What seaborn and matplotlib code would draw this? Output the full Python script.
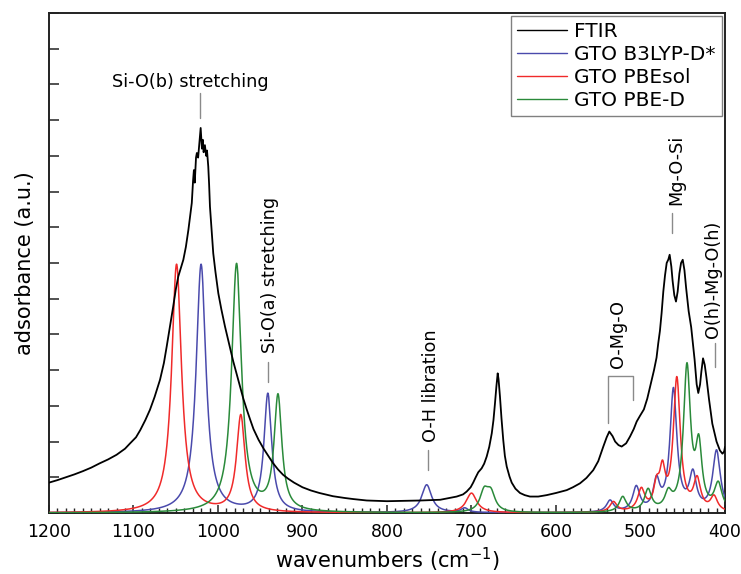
import numpy as np
import pandas as pd
import matplotlib
matplotlib.use("Agg")
import matplotlib.pyplot as plt
from matplotlib.ticker import MultipleLocator
import seaborn as sns

# ---------------------------------------------------------------------------
# Data (wavenumber in cm-1, absorbance in a.u.)
# ---------------------------------------------------------------------------
ftir_wn = [1200, 1190, 1180, 1170, 1160, 1150, 1140, 1130, 1120, 1110, 1104, 1097,
           1092, 1086, 1080.5, 1075, 1068.6, 1064, 1060.7, 1057, 1053, 1050, 1047,
           1044, 1041, 1038, 1035, 1033, 1031, 1029.5, 1028.5, 1027.5, 1026, 1025,
           1023.5, 1022, 1020.5, 1019, 1018, 1017, 1015.5, 1014, 1013, 1011.5,
           1010.5, 1009.5, 1007.5, 1005.6, 1003, 999.6, 996, 991.7, 987, 982, 978,
           974, 970, 966, 962, 958, 952, 946, 940, 935, 929, 923, 917, 910, 900,
           890, 880, 864, 850, 840, 824, 800, 780, 760, 737, 717.5, 710, 705.7, 701,
           698, 695, 692, 688, 685, 682, 679, 676, 674, 672.2, 670.5, 669, 668,
           666.3, 664.5, 662.4, 660.5, 658.3, 655, 652.4, 648, 642.6, 637, 630.8,
           621, 611, 600, 587.3, 580, 571.6, 564, 555.9, 550, 544, 540, 536.9, 533,
           530, 526, 522.3, 517, 512.4, 508, 504.5, 500.6, 496, 492, 488, 484, 481,
           479, 477, 475, 473, 471, 469, 467, 465.5, 463.5, 462, 460, 458, 456, 454,
           452, 450, 448, 446, 443, 440, 436, 433.5, 431.6, 429.5, 428, 426, 424,
           422, 419, 415, 410, 406, 403, 401, 400]
ftir_abs = [0.85, 0.92, 1.0, 1.08, 1.17, 1.27, 1.39, 1.5, 1.63, 1.8, 1.95, 2.12,
            2.32, 2.6, 2.89, 3.25, 3.73, 4.2, 4.66, 5.2, 5.78, 6.25, 6.62,
            6.85, 7.09, 7.45, 7.93, 8.3, 8.68, 9.3, 9.6, 9.25, 9.95, 10.08,
            9.95, 10.35, 10.78, 10.2, 10.45, 10.1, 10.3, 10.0, 10.15, 9.7,
            9.2, 8.58, 7.9, 7.27, 6.75, 6.15, 5.7, 5.22, 4.75, 4.25, 3.9,
            3.55, 3.2, 2.9, 2.62, 2.35, 2.05, 1.8, 1.58, 1.4, 1.22, 1.07, 0.96, 0.85, 0.72,
            0.63, 0.56, 0.47, 0.42, 0.39, 0.35, 0.33, 0.34, 0.35, 0.37, 0.46, 0.52, 0.6, 0.72,
            0.85, 1.0, 1.14, 1.25, 1.38, 1.58, 1.85, 2.23, 2.6, 3.07, 3.55, 3.91, 3.75,
            3.26, 2.65, 2.04, 1.6, 1.3, 1.02, 0.85, 0.68, 0.56, 0.5, 0.46,
            0.46, 0.5, 0.56, 0.64, 0.72, 0.83, 0.98, 1.2, 1.45, 1.86, 2.12, 2.28, 2.15,
            2.0, 1.9, 1.86, 1.95, 2.14, 2.35, 2.56, 2.72, 2.9, 3.2, 3.6, 4.0, 4.35,
            4.75, 5.1, 5.6, 6.2, 6.65, 7.0, 7.1, 7.23, 6.9, 6.5, 6.1, 5.92, 6.2, 6.7,
            7.0, 7.09, 6.8, 6.3, 5.65, 5.2, 4.3, 3.6, 3.36, 3.6, 3.95, 4.33, 4.15,
            3.8, 3.2, 2.5, 2.0, 1.75, 1.66, 1.72, 1.85]

# computed GTO spectra: band position, intensity, half width
b3lyp_pos = [1020, 941, 753, 708, 536, 505, 481, 461, 438, 410]
b3lyp_int = [6.95, 3.3, 0.78, 0.12, 0.32, 0.68, 0.8, 3.4, 1.0, 1.7]
b3lyp_hw = [7, 5.5, 7, 5, 5, 5, 4.5, 5, 5, 5.5]

pbesol_pos = [1049, 973, 700, 532, 499, 481, 474, 457, 433, 413]
pbesol_int = [6.95, 2.7, 0.55, 0.28, 0.6, 0.6, 1.0, 3.7, 0.85, 0.4]
pbesol_hw = [7, 6, 7.5, 5, 5, 4, 4, 5, 5, 5]

pbed_pos = [978, 929, 685, 677, 521, 491, 467, 445, 431, 408]
pbed_int = [6.95, 3.2, 0.55, 0.5, 0.42, 0.6, 0.45, 4.0, 1.7, 0.75]
pbed_hw = [7, 5.5, 6, 6, 5, 5, 5, 5, 4.5, 5.5]

labels = ["FTIR", "GTO B3LYP-D*", "GTO PBEsol", "GTO PBE-D"]
colors = ["black", "#4a4aac", "#f02a2a", "#2a8a3a"]


def lorentz_sum(grid, pos, inten, hw):
    out = np.zeros_like(grid)
    for p, h, w in zip(pos, inten, hw):
        out += h / (1.0 + ((grid - p) / w) ** 2)
    return out


grid = np.linspace(400, 1200, 3201)
df = pd.DataFrame({"wn": ftir_wn, "abs": ftir_abs})

sns.set_theme(style="ticks")
plt.rcParams["font.family"] = ["DejaVu Sans"]
plt.rcParams.update({"text.color": "black", "axes.labelcolor": "black",
                     "xtick.color": "black", "ytick.color": "black"})

fig = plt.figure(figsize=(7.41, 5.74), dpi=100)
ax = fig.add_axes([0.0661, 0.1063, 0.9123, 0.8711])

sns.lineplot(data=df, x="wn", y="abs", color=colors[0], lw=1.3,
             estimator=None, sort=False, label=labels[0], ax=ax, zorder=4)
for (pos, inten, hw), lab, col in zip(
        [(b3lyp_pos, b3lyp_int, b3lyp_hw),
         (pbesol_pos, pbesol_int, pbesol_hw),
         (pbed_pos, pbed_int, pbed_hw)],
        labels[1:], colors[1:]):
    sns.lineplot(x=grid, y=lorentz_sum(grid, pos, inten, hw), color=col,
                 lw=1.1, estimator=None, label=lab, ax=ax, zorder=3)

ax.set_xlim(1200, 400)
ax.set_ylim(0, 14)
ax.xaxis.set_major_locator(MultipleLocator(100))
ax.xaxis.set_minor_locator(MultipleLocator(10))
ax.yaxis.set_major_locator(MultipleLocator(1))
ax.tick_params(axis="x", which="major", direction="in", length=6, width=1.1,
               labelsize=12.5, pad=7, top=False, color="#222222", labelcolor="black")
ax.tick_params(axis="x", which="minor", direction="in", length=3.5, width=1.0,
               top=False, color="#222222")
ax.tick_params(axis="y", which="major", direction="in", length=7, width=1.1,
               labelleft=False, right=False, color="#222222")
for sp in ax.spines.values():
    sp.set_linewidth(1.4)
    sp.set_color("#222222")

ax.set_xlabel(r"wavenumbers (cm$^{\mathregular{-1}}$)", fontsize=15, labelpad=4,
              color="black")
ax.set_ylabel("adsorbance (a.u.)", fontsize=15, labelpad=10, color="black")

# band assignments
grey = "#8a8a8a"
tfs = 12.7
ax.text(1033, 12.07, "Si-O(b) stretching", ha="center", va="center", fontsize=tfs)
ax.plot([1021, 1021], [11.05, 11.76], color=grey, lw=1)
ax.text(939, 6.67, "Si-O(a) stretching", rotation=90, ha="center", va="center", fontsize=tfs)
ax.plot([941, 941], [3.67, 4.23], color=grey, lw=1)
ax.text(748, 3.56, "O-H libration", rotation=90, ha="center", va="center", fontsize=tfs)
ax.plot([752, 752], [1.2, 1.76], color=grey, lw=1)
ax.text(526.5, 5.0, "O-Mg-O", rotation=90, ha="center", va="center", fontsize=tfs)
ax.plot([538.5, 538.5, 509, 509], [2.52, 3.84, 3.84, 3.17], color=grey, lw=1)
ax.text(458, 9.6, "Mg-O-Si", rotation=90, ha="center", va="center", fontsize=tfs)
ax.plot([463, 463], [7.84, 8.4], color=grey, lw=1)
ax.text(414, 6.53, "O(h)-Mg-O(h)", rotation=90, ha="center", va="center", fontsize=tfs)
ax.plot([412, 412], [4.09, 4.76], color=grey, lw=1)

leg = ax.legend(loc="upper right", fontsize=14.5, frameon=True, fancybox=False,
                edgecolor="#808080", framealpha=1, handlelength=2.5,
                handletextpad=0.35, labelspacing=0.2, borderpad=0.3,
                borderaxespad=0.15)
leg.get_frame().set_linewidth(1.0)
for t in leg.get_texts():
    t.set_color("black")
for h in leg.get_lines():
    h.set_linewidth(1.0)

fig.savefig("out.png", dpi=100)
